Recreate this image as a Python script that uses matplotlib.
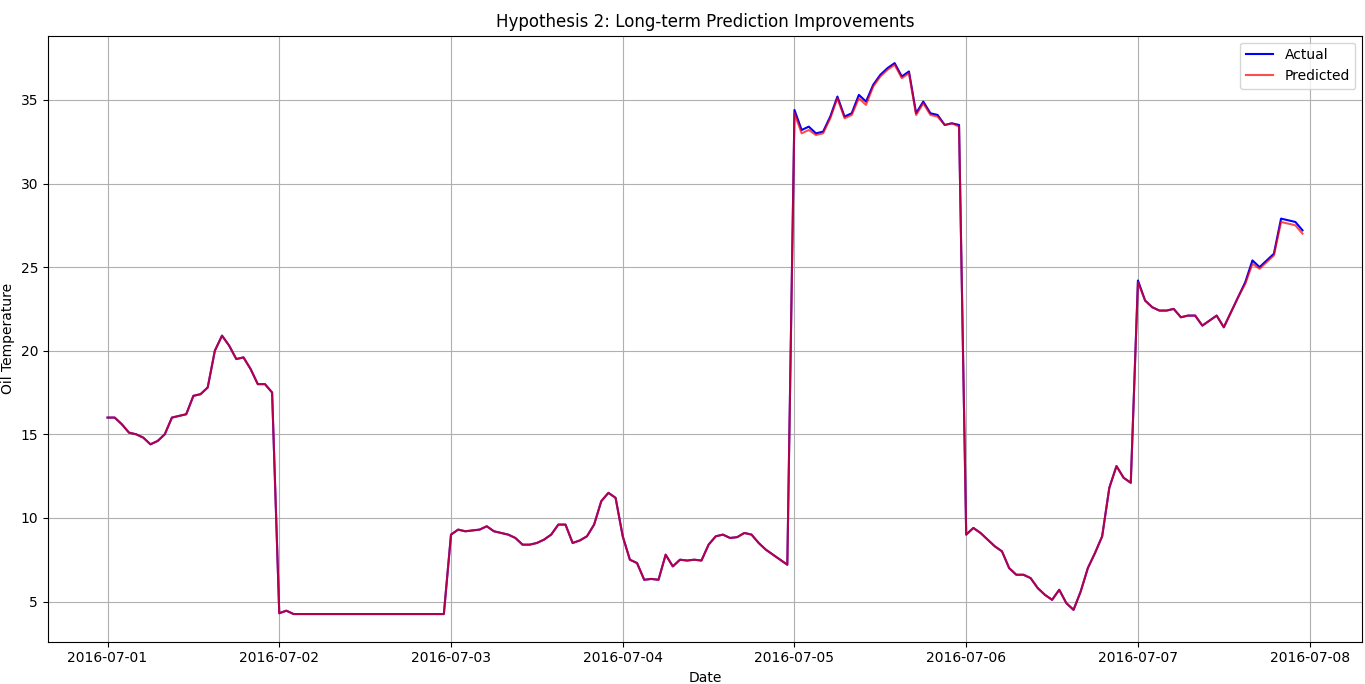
import pandas as pd
import matplotlib.pyplot as plt

dates = pd.date_range('2016-07-01 00:00', periods=168, freq='h')

day1 = [16.0, 16.0, 15.6, 15.1, 15.0, 14.8, 14.4, 14.6, 15.0, 16.0, 16.1, 16.2,
        17.3, 17.4, 17.8, 20.0, 20.9, 20.3, 19.5, 19.6, 18.9, 18.0, 18.0, 17.5]
day2 = [4.3, 4.45, 4.25, 4.25, 4.25, 4.25, 4.25, 4.25, 4.25, 4.25, 4.25, 4.25,
        4.25, 4.25, 4.25, 4.25, 4.25, 4.25, 4.25, 4.25, 4.25, 4.25, 4.25, 4.25]
day3 = [9.0, 9.3, 9.2, 9.25, 9.3, 9.5, 9.2, 9.1, 9.0, 8.8, 8.4, 8.4,
        8.5, 8.7, 9.0, 9.6, 9.6, 8.5, 8.65, 8.9, 9.6, 11.0, 11.5, 11.2]
day4 = [8.9, 7.5, 7.3, 6.3, 6.35, 6.3, 7.8, 7.1, 7.5, 7.45, 7.5, 7.45,
        8.4, 8.9, 9.0, 8.8, 8.85, 9.1, 9.0, 8.5, 8.1, 7.8, 7.5, 7.2]
day5 = [34.4, 33.2, 33.4, 33.0, 33.1, 34.0, 35.2, 34.0, 34.2, 35.3, 34.9, 35.9,
        36.5, 36.9, 37.2, 36.4, 36.7, 34.2, 34.9, 34.2, 34.1, 33.5, 33.6, 33.5]
day6 = [9.0, 9.4, 9.1, 8.7, 8.3, 8.0, 7.0, 6.6, 6.6, 6.4, 5.8, 5.4,
        5.1, 5.7, 4.9, 4.5, 5.6, 7.0, 7.9, 8.9, 11.8, 13.1, 12.4, 12.1]
day7 = [24.2, 23.0, 22.6, 22.4, 22.4, 22.5, 22.0, 22.1, 22.1, 21.5, 21.8, 22.1,
        21.4, 22.3, 23.2, 24.1, 25.4, 25.0, 25.4, 25.8, 27.9, 27.8, 27.7, 27.2]

pred5 = [34.2, 33.0, 33.2, 32.9, 33.0, 33.9, 35.1, 33.9, 34.1, 35.1, 34.7, 35.8,
         36.4, 36.8, 37.1, 36.3, 36.6, 34.1, 34.8, 34.1, 34.0, 33.5, 33.6, 33.4]
pred7 = [24.1, 23.0, 22.6, 22.4, 22.4, 22.5, 22.0, 22.1, 22.1, 21.5, 21.8, 22.1,
         21.4, 22.3, 23.2, 24.0, 25.2, 24.9, 25.3, 25.7, 27.7, 27.6, 27.5, 27.0]

actual = day1 + day2 + day3 + day4 + day5 + day6 + day7
predicted = day1 + day2 + day3 + day4 + pred5 + day6 + pred7

fig, ax = plt.subplots(figsize=(13.65, 6.84), dpi=100)
ax.plot(dates, actual, color='blue', label='Actual')
ax.plot(dates, predicted, color='red', alpha=0.7, label='Predicted')
ax.set_title('Hypothesis 2: Long-term Prediction Improvements')
ax.set_xlabel('Date')
ax.set_ylabel('Oil Temperature')
ax.legend(loc='upper right')
ax.grid(True)
plt.subplots_adjust(left=0.035, right=0.998, top=0.948, bottom=0.062)
plt.savefig('out.png')
